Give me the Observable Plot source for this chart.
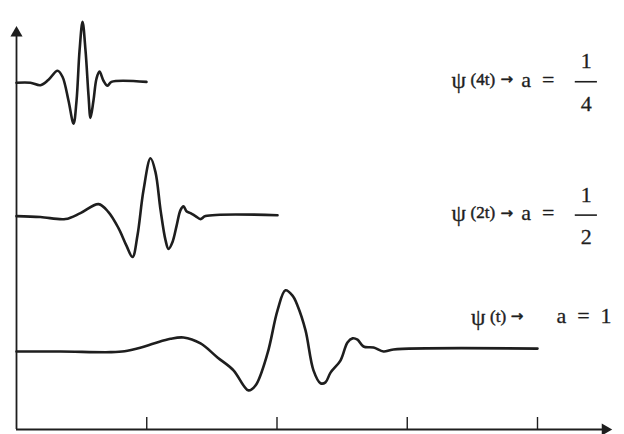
<!DOCTYPE html>
<html><head><meta charset="utf-8">
<script src="https://cdn.jsdelivr.net/npm/d3@7"></script>
<script src="https://cdn.jsdelivr.net/npm/@observablehq/plot@0.6"></script>
<style>html,body{margin:0;padding:0;background:#fff}</style>
</head><body><div id="chart"></div>
<script>
// Wavelet a = 1/4 : psi(4t)
const t4 = [0, 0.107, 0.184, 0.246, 0.315, 0.353, 0.399, 0.438, 0.461, 0.484, 0.507, 0.530, 0.553, 0.568, 0.591, 0.614, 0.637, 0.668, 0.699, 0.729, 0.998];
const a4 = [0, 0, -0.056, 0.067, 0.27, 0.135, -0.40, -0.92, -0.40, 0.72, 1.37, 0.72, -0.29, -0.79, -0.40, 0.09, 0.25, 0.045, -0.067, 0.02, 0.02];
// Wavelet a = 1/2 : psi(2t)
const t2 = [0, 0.184, 0.376, 0.491, 0.630, 0.706, 0.783, 0.845, 0.891, 0.929, 0.975, 1.029, 1.067, 1.106, 1.144, 1.167, 1.198, 1.229, 1.259, 1.282, 1.305, 1.336, 1.374, 1.413, 1.451, 2.004];
const a2 = [0, -0.02, -0.067, 0.067, 0.27, 0.09, -0.27, -0.67, -0.92, -0.43, 0.58, 1.30, 0.99, 0.135, -0.54, -0.74, -0.58, -0.22, 0.135, 0.22, 0.11, 0.067, 0, -0.067, 0, 0.02];
// Wavelet a = 1 : psi(t)
const t1 = [0, 0.338, 0.722, 0.83, 0.95, 1.06, 1.182, 1.282, 1.413, 1.543, 1.666, 1.743, 1.781, 1.835, 1.927, 2.004, 2.065, 2.119, 2.157, 2.219, 2.280, 2.334, 2.372, 2.411, 2.487, 2.541, 2.580, 2.618, 2.664, 2.741, 2.818, 2.894, 4.0];
const a1 = [-0.045, -0.045, -0.06, -0.04, 0.04, 0.14, 0.24, 0.27, 0.135, -0.18, -0.47, -0.81, -0.92, -0.81, -0.09, 0.88, 1.33, 1.21, 0.99, 0.43, -0.47, -0.76, -0.74, -0.52, -0.25, 0.157, 0.25, 0.22, 0.067, 0.045, -0.045, 0, 0.02];

const funcs = ["(4t)", "(2t)", "(t)"];
const numer = ["1", "1", "1"];
const denom = ["4", "2", ""];
const offsets = [7.8, 4.8, 1.8];
const ticks = [1, 2, 3, 4];

const series = [[t4, a4], [t2, a2], [t1, a1]];
const wave = series.flatMap(([ts, as], i) => ts.map((t, j) => ({row: i, t, y: offsets[i] + as[j]})));
const rows = funcs.map((f, i) => ({row: i, f, n: numer[i], d: denom[i], base: offsets[i], frac: denom[i] !== ""}));
const fracRows = rows.filter(r => r.frac);
const oneRows = rows.filter(r => !r.frac);

const ink = "#1e1e1e";
const serif = "Liberation Serif, Times New Roman, serif";
const labelY = r => r.frac ? r.base + 0.05 : r.base + 0.72;
const labelX = r => r.frac ? 3.34 : 3.49;
const arrowX = r => r.frac ? 3.715 : 3.795;

const chart = Plot.plot({
  width: 624, height: 434,
  marginLeft: 16, marginRight: 87, marginTop: 20, marginBottom: 5,
  x: {domain: [0, 4], axis: null},
  y: {domain: [0, 9.2], axis: null},
  style: {background: "#fff"},
  marks: [
    Plot.ruleY([0], {x1: 0, x2: 4.5, stroke: ink, strokeWidth: 1.8}),
    Plot.ruleX([0], {y1: 0, y2: 8.9, stroke: ink, strokeWidth: 1.8}),
    Plot.dot([0], {x: () => 4.52, y: 0, symbol: "triangle", rotate: 90, r: 4.5, fill: ink, stroke: "none"}),
    Plot.dot([0], {x: 0, y: () => 8.92, symbol: "triangle", r: 4.5, fill: ink, stroke: "none"}),
    Plot.ruleX(ticks, {x: d => d, y1: 0, y2: 0.27, stroke: ink, strokeWidth: 1.4}),
    Plot.line(wave, {x: "t", y: "y", z: "row", curve: "catmull-rom", stroke: ink, strokeWidth: 2.6, strokeLinejoin: "round"}),
    // labels
    Plot.text(rows, {x: labelX, y: labelY, text: () => "ψ", textAnchor: "start", fontSize: 23, fontFamily: serif, fill: ink, stroke: ink, strokeWidth: 0.3}),
    Plot.text(rows, {x: labelX, y: labelY, text: "f", textAnchor: "start", dx: 19, dy: -1, fontSize: 17, fontFamily: serif, fill: ink, stroke: ink, strokeWidth: 0.45}),
    Plot.text(rows, {x: arrowX, y: labelY, text: () => "→", textAnchor: "start", dy: -1, fontSize: 15, fontFamily: "DejaVu Sans", fill: ink, stroke: ink, strokeWidth: 0.5}),
    Plot.text(fracRows, {x: 3.875, y: "base", text: () => "a  =", textAnchor: "start", fontSize: 22, fontFamily: serif, fill: ink, stroke: ink, strokeWidth: 0.3, dy: -3}),
    Plot.text(fracRows, {x: 4.375, y: r => r.base + 0.48, text: "n", fontSize: 22, fontFamily: serif, fill: ink, stroke: ink, strokeWidth: 0.3}),
    Plot.text(fracRows, {x: 4.375, y: r => r.base - 0.48, text: "d", fontSize: 22, fontFamily: serif, fill: ink, stroke: ink, strokeWidth: 0.3}),
    Plot.ruleY(fracRows, {y: "base", x1: 4.29, x2: 4.46, stroke: ink, strokeWidth: 1.6, dy: -1}),
    Plot.text(oneRows, {x: 4.145, y: labelY, text: r => "a  =  " + r.n, textAnchor: "start", fontSize: 22, fontFamily: serif, fill: ink, stroke: ink, strokeWidth: 0.3, dy: -2})
  ]
});
document.getElementById("chart").appendChild(chart);
</script>
</body></html>
